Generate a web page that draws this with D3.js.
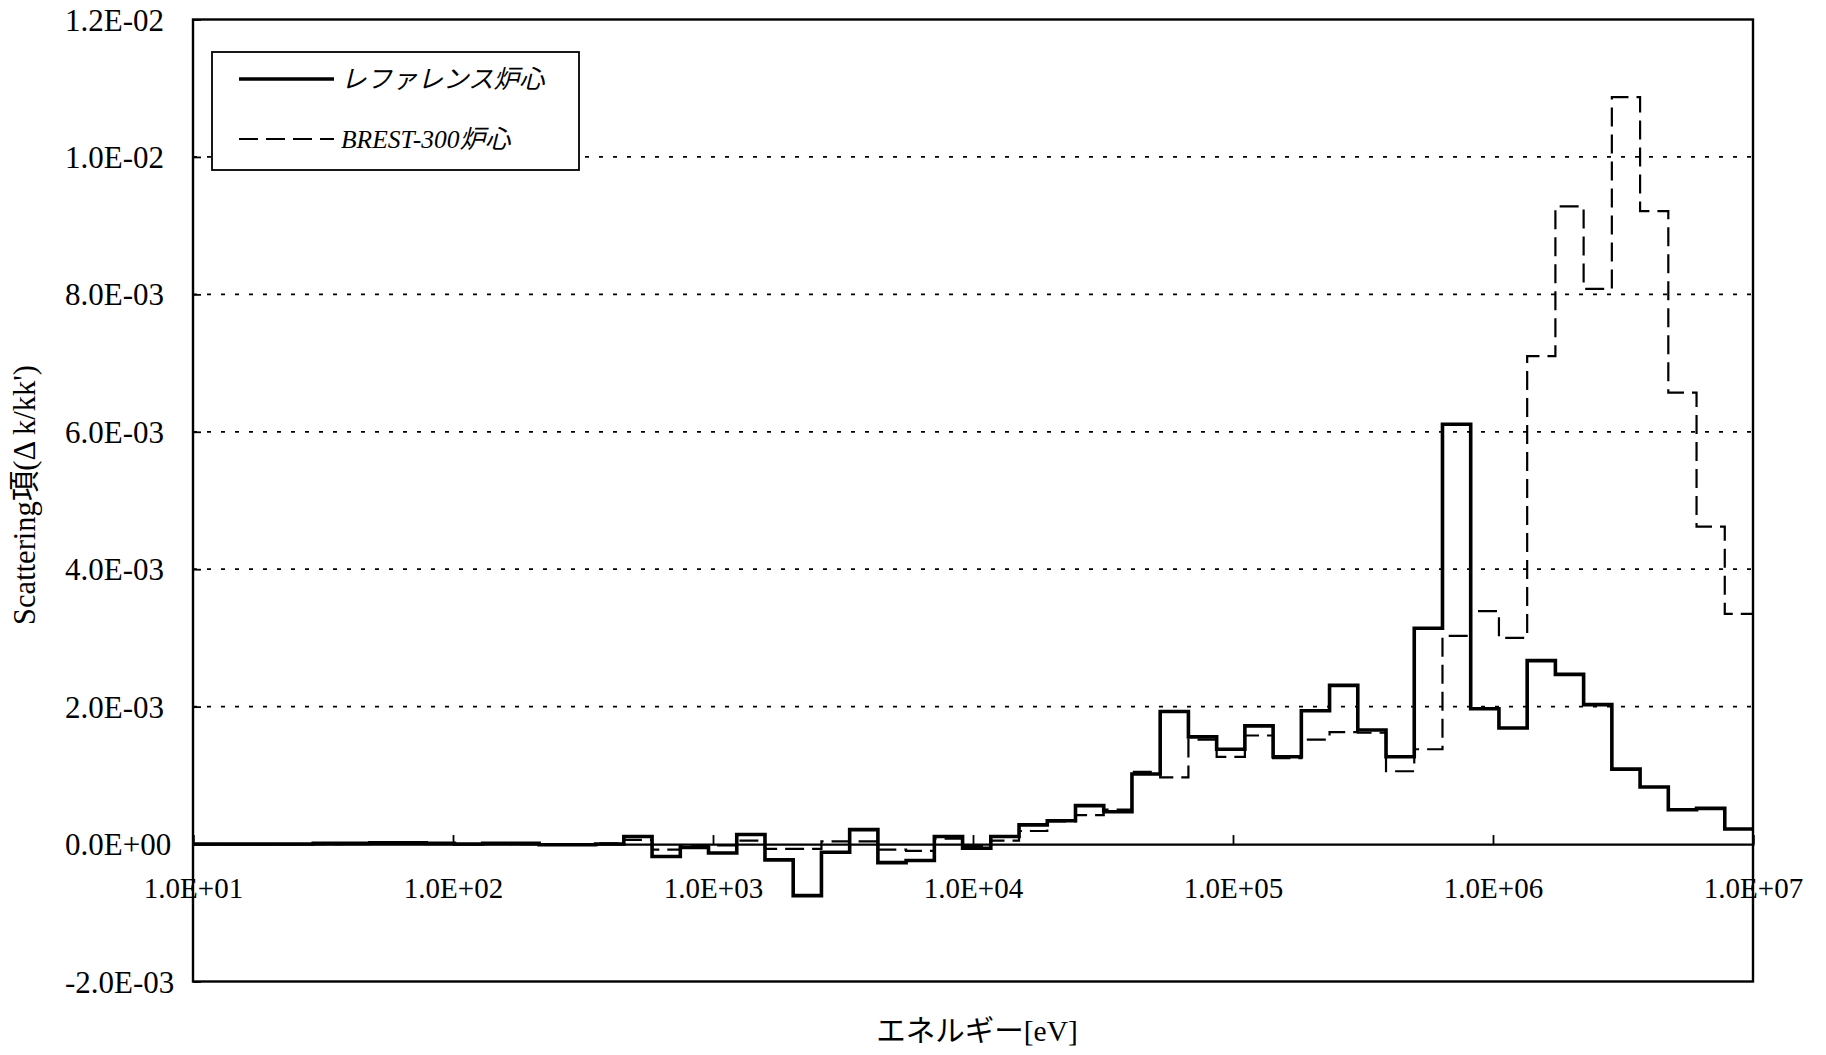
<!DOCTYPE html>
<html>
<head>
<meta charset="utf-8">
<script src="https://cdn.jsdelivr.net/npm/d3@7"></script>
<style>
  html, body { margin: 0; padding: 0; background: #fff; }
  svg { display: block; }
  text { font-family: "Liberation Serif", "Times New Roman", "Noto Sans CJK JP", serif; fill: #000; }
</style>
</head>
<body>
<svg id="chart" width="1826" height="1055"></svg>
<script>
// Energy group boundaries (eV), lethargy width 0.25, from 10 MeV downward.
// Group g spans groupBoundsEV[g + 1] .. groupBoundsEV[g].
const groupBoundsEV = [
  1.0000e7, 7.7880e6, 6.0653e6, 4.7237e6, 3.6788e6, 2.8650e6, 2.2313e6, 1.7377e6, 1.3534e6, 1.0540e6,
  8.2085e5, 6.3928e5, 4.9787e5, 3.8774e5, 3.0197e5, 2.3518e5, 1.8316e5, 1.4264e5, 1.1109e5, 8.6517e4,
  6.7379e4, 5.2475e4, 4.0868e4, 3.1828e4, 2.4788e4, 1.9305e4, 1.5034e4, 1.1709e4, 9.1188e3, 7.1017e3,
  5.5308e3, 4.3074e3, 3.3546e3, 2.6126e3, 2.0347e3, 1.5846e3, 1.2341e3, 961.12, 748.52, 582.95,
  454.00, 353.57, 275.36, 214.45, 167.02, 130.07, 101.30, 78.893, 61.442, 47.851,
  37.267, 29.023, 22.603, 17.603, 13.710, 10.677, 8.3153
];

// Scattering term per group, in units of 1E-03 (Δk/kk'), group 0 = highest energy.
const referenceCore = [
  0.22, 0.52, 0.50, 0.83, 1.09, 2.03, 2.47, 2.67, 1.69, 1.97,
  6.11, 3.14, 1.27, 1.66, 2.31, 1.94, 1.27, 1.72, 1.38, 1.56,
  1.93, 1.02, 0.47, 0.56, 0.34, 0.28, 0.11, -0.06, 0.11, -0.24,
  -0.27, 0.21, -0.12, -0.75, -0.23, 0.14, -0.13, -0.05, -0.18, 0.11,
  0.00, -0.01, -0.01, 0.01, 0.01, 0.00, 0.01, 0.02, 0.02, 0.01,
  0.01, 0.00, 0.00, 0.00, 0.00, 0.00
];
const brest300Core = [
  3.35, 4.62, 6.57, 9.21, 10.87, 8.08, 9.28, 7.10, 3.00, 3.39,
  3.03, 1.38, 1.06, 1.62, 1.63, 1.52, 1.25, 1.58, 1.27, 1.52,
  0.97, 1.05, 0.50, 0.42, 0.33, 0.19, 0.05, -0.03, 0.08, -0.10,
  -0.08, 0.04, 0.04, -0.07, -0.07, 0.05, -0.02, -0.03, -0.08, 0.06,
  0.01, 0.00, -0.01, 0.00, 0.01, 0.00, 0.01, 0.01, 0.01, 0.01,
  0.00, 0.00, 0.00, 0.00, 0.00, 0.00
];

const seriesNames = ["レファレンス炉心", "BREST-300炉心"];
const xTickValues = [1e1, 1e2, 1e3, 1e4, 1e5, 1e6, 1e7];
const yTickValues = [-2e-3, 0, 2e-3, 4e-3, 6e-3, 8e-3, 10e-3, 12e-3];
const gridValues = [2e-3, 4e-3, 6e-3, 8e-3, 10e-3];
const xTitle = "エネルギー[eV]";
const yTitle = "Scattering項(Δ k/kk')";

// Layout
const plot = { left: 193, right: 1753, top: 19.5, bottom: 981.5 };
const svg = d3.select("#chart");

const x = d3.scaleLog().domain([10, 1e7]).range([plot.left, plot.right]);
const y = d3.scaleLinear().domain([-2e-3, 12e-3]).range([plot.bottom, plot.top]);

// "1.2E-02" style labels
function sciLabel(v) {
  const [m, e] = v.toExponential(1).split("e");
  const n = parseInt(e, 10);
  const sign = n < 0 ? "-" : "+";
  return m + "E" + sign + String(Math.abs(n)).padStart(2, "0");
}

// Dotted horizontal gridlines
svg.append("g")
  .selectAll("line")
  .data(gridValues)
  .join("line")
  .attr("x1", plot.left).attr("x2", plot.right)
  .attr("y1", d => y(d)).attr("y2", d => y(d))
  .attr("stroke", "#000")
  .attr("stroke-width", 1.8)
  .attr("stroke-dasharray", "4,10");

// Step series
const clip = svg.append("defs").append("clipPath").attr("id", "plotClip");
clip.append("rect")
  .attr("x", plot.left).attr("y", plot.top)
  .attr("width", plot.right - plot.left).attr("height", plot.bottom - plot.top);

function stepPoints(values) {
  const pts = [];
  for (let g = values.length - 1; g >= 0; g--) {
    pts.push([groupBoundsEV[g + 1], values[g] * 1e-3]);
  }
  pts.push([groupBoundsEV[0], values[0] * 1e-3]);
  return pts;
}

const stepLine = d3.line()
  .x(d => x(d[0]))
  .y(d => y(d[1]))
  .curve(d3.curveStepAfter);

const series = svg.append("g").attr("clip-path", "url(#plotClip)");

series.append("path")
  .datum(stepPoints(brest300Core))
  .attr("d", stepLine)
  .attr("fill", "none")
  .attr("stroke", "#000")
  .attr("stroke-width", 2.2)
  .attr("stroke-dasharray", "19,8");

series.append("path")
  .datum(stepPoints(referenceCore))
  .attr("d", stepLine)
  .attr("fill", "none")
  .attr("stroke", "#000")
  .attr("stroke-width", 3.6)
  .attr("stroke-linejoin", "miter");

// X axis along the zero line, ticks pointing up
const xAxis = svg.append("g")
  .attr("transform", `translate(0,${y(0)})`)
  .call(d3.axisBottom(x).tickValues(xTickValues).tickFormat(sciLabel).tickSize(-9));
xAxis.select(".domain").attr("stroke", "#000").attr("stroke-width", 2.2);
xAxis.selectAll(".tick line").attr("stroke", "#000").attr("stroke-width", 1.8);
xAxis.selectAll(".tick text")
  .attr("y", 54).attr("dy", 0)
  .style("font-size", "29px")
  .style("font-family", "\"Liberation Serif\", \"Times New Roman\", serif");

// Y axis with labels to the left, ticks pointing into the plot
const yAxis = svg.append("g")
  .attr("transform", `translate(${plot.left},0)`)
  .call(d3.axisLeft(y).tickValues(yTickValues).tickFormat(sciLabel).tickSize(-8));
yAxis.select(".domain").remove();
yAxis.selectAll(".tick line").attr("stroke", "#000").attr("stroke-width", 1.8);
yAxis.selectAll(".tick text")
  .attr("x", 65 - plot.left)
  .attr("text-anchor", "start")
  .attr("dy", "0.34em")
  .style("font-size", "31px")
  .style("font-family", "\"Liberation Serif\", \"Times New Roman\", serif");

// Plot frame
svg.append("rect")
  .attr("x", plot.left).attr("y", plot.top)
  .attr("width", plot.right - plot.left).attr("height", plot.bottom - plot.top)
  .attr("fill", "none")
  .attr("stroke", "#000")
  .attr("stroke-width", 2.4);

// Axis titles
svg.append("text")
  .attr("x", 977).attr("y", 1041)
  .attr("text-anchor", "middle")
  .style("font-size", "29.5px")
  .text(xTitle);

svg.append("text")
  .attr("transform", "translate(35,495) rotate(-90)")
  .attr("text-anchor", "middle")
  .style("font-size", "30.5px")
  .text(yTitle);

// Legend
const legend = svg.append("g");
legend.append("rect")
  .attr("x", 212).attr("y", 52)
  .attr("width", 367).attr("height", 118)
  .attr("fill", "#fff")
  .attr("stroke", "#000")
  .attr("stroke-width", 1.8);

const legendRows = [
  { name: seriesNames[0], y: 79, width: 3.6, dash: null },
  { name: seriesNames[1], y: 139, width: 2.2, dash: "19,8" }
];
legendRows.forEach(r => {
  legend.append("line")
    .attr("x1", 239).attr("x2", 334)
    .attr("y1", r.y).attr("y2", r.y)
    .attr("stroke", "#000")
    .attr("stroke-width", r.width)
    .attr("stroke-dasharray", r.dash);
  legend.append("text")
    .attr("x", 341).attr("y", r.y + 9)
    .style("font-size", "25.5px")
    .style("font-style", "italic")
    .text(r.name);
});
</script>
</body>
</html>
